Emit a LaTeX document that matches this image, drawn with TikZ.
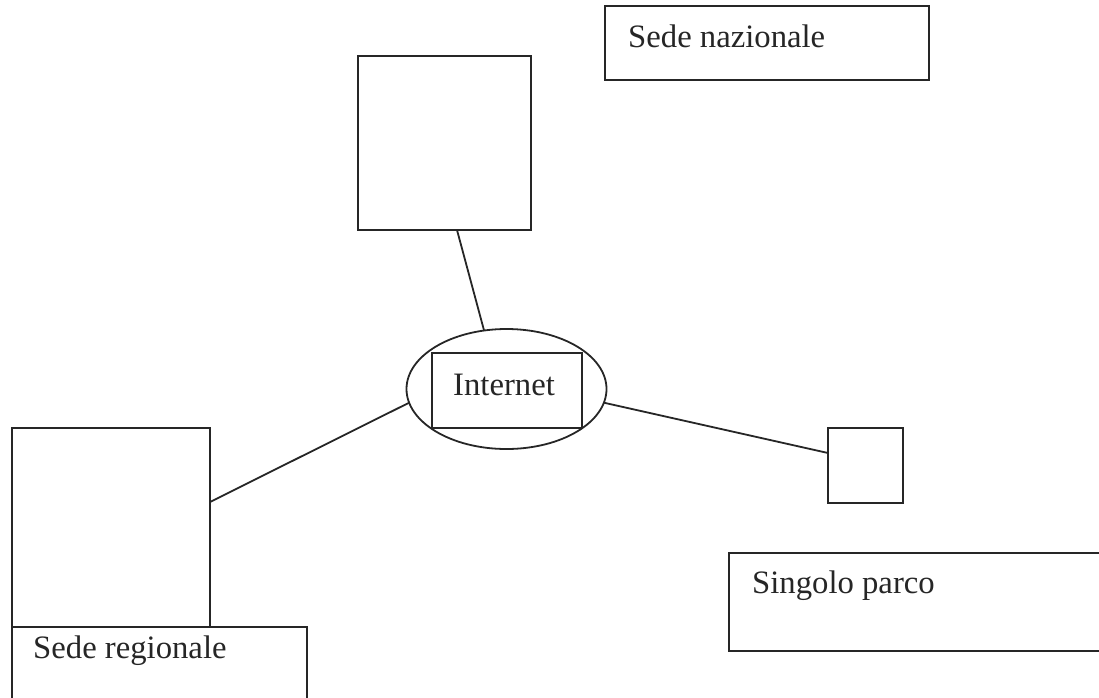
\documentclass[tikz,border=0pt]{standalone}
\usepackage{fontspec}
\setmainfont{Liberation Serif}
\usetikzlibrary{shapes.geometric}
\begin{document}
\begin{tikzpicture}[x=1pt,y=-1pt,
  conn/.style={line width=1.8pt, draw=black!85},
  boxnode/.style={draw=black!85, line width=1.8pt, rectangle, inner sep=0pt, outer sep=0pt},
  lbl/.style={inner sep=0pt, anchor=base west, font=\fontsize{32.7}{39}\selectfont, text=black!85}]
\useasboundingbox (0,0) rectangle (1099,697);
% boxes
\node[boxnode, minimum width=173pt, minimum height=174pt] (top) at (444.5,143) {};
\node[boxnode, minimum width=324pt, minimum height=74pt] (naz) at (767,43) {};
\node[boxnode, minimum width=198pt, minimum height=199pt] (lbox) at (111,527.5) {};
\node[boxnode, minimum width=295pt, minimum height=100pt] (reg) at (159.5,677) {};
\node[boxnode, minimum width=75pt, minimum height=75pt] (sq) at (865.5,465.5) {};
\node[boxnode, minimum width=390pt, minimum height=98pt] (parco) at (924,602) {};
% internet
\node[draw=black!85, line width=1.8pt, ellipse, minimum width=200pt, minimum height=120pt, inner sep=0pt, outer sep=0pt] (ell) at (506.5,389) {};
\node[boxnode, minimum width=150pt, minimum height=75pt] (irect) at (507,390.5) {};
% labels
\node[lbl] (tnaz) at (628,47) {Sede nazionale};
\node[lbl] (tint) at (453,395) {Internet};
\node[lbl] (treg) at (33,658) {Sede regionale};
\node[lbl] (tpar) at (752,593) {Singolo parco};
% connectors
\draw[conn] ([xshift=12.5pt]top.south) -- (ell.111.7);
\draw[conn] ([yshift=25.5pt]lbox.east) -- (ell.188);
\draw[conn] (ell.352) -- ([yshift=12.5pt]sq.west);
\end{tikzpicture}
\end{document}
